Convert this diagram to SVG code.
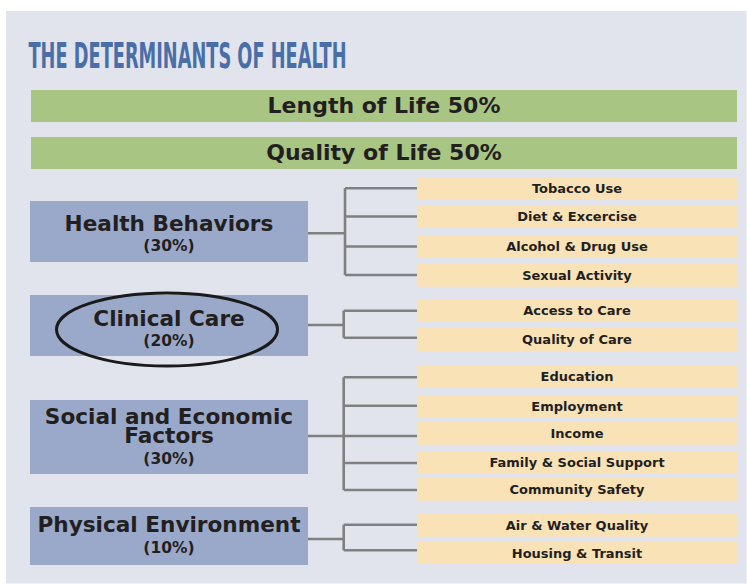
<svg xmlns="http://www.w3.org/2000/svg" width="747" height="584" viewBox="0 0 747 584">
<style>
.bg{fill:#e1e4ec}
.bar{fill:#a8c584}
.cat{fill:#9aa9ca}
.item{fill:#f8e2b6}
.t{font-family:"DejaVu Sans","Liberation Sans",Verdana,sans-serif;font-weight:bold;fill:#231f20;text-anchor:middle}
.big{font-size:22px}
.h{font-size:21.6px}
.p{font-size:15.5px}
.s{font-size:13px}
.conn{fill:none;stroke:#808080;stroke-width:2.6}
.title{font-family:"DejaVu Sans","Liberation Sans",sans-serif;font-stretch:condensed;font-weight:bold;font-size:35px;fill:#4a6ea8}
</style>
<rect x="0" y="0" width="747" height="584" fill="#ffffff"/>
<rect class="bg" x="6" y="11" width="740.5" height="572.5"/>
<text class="title" x="28.5" y="67.7" textLength="318" lengthAdjust="spacingAndGlyphs">THE DETERMINANTS OF HEALTH</text>

<g id="length">
<rect class="bar" x="31" y="90" width="706" height="32"/>
<text class="t big" x="384" y="112.7">Length of Life 50%</text>
</g>
<g id="quality">
<rect class="bar" x="31" y="137" width="706" height="32"/>
<text class="t big" x="384" y="160">Quality of Life 50%</text>
</g>

<g id="connectors">
<path class="conn" d="M308 233.3H345M345 188.3V275M345 188.3H417M345 216.5H417M345 246.5H417M345 275H417"/>
<path class="conn" d="M308 325H343.7M343.7 310.7V337.7M343.7 310.7H417M343.7 337.7H417"/>
<path class="conn" d="M308 436H343.7M343.7 377.3V490M343.7 377.3H417M343.7 405.7H417M343.7 436H417M343.7 463H417M343.7 490H417"/>
<path class="conn" d="M308 539H343.7M343.7 524.7V550.3M343.7 524.7H417M343.7 550.3H417"/>
</g>

<g id="health-behaviors">
<rect class="cat" x="30" y="201" width="278" height="61"/>
<text class="t h" x="169" y="230.7">Health Behaviors</text>
<text class="t p" x="169" y="250.7">(30%)</text>
</g>
<g id="clinical-care">
<rect class="cat" x="30" y="295" width="278" height="61"/>
<text class="t h" x="169" y="325.7">Clinical Care</text>
<text class="t p" x="169" y="345.7">(20%)</text>
<ellipse cx="167" cy="329.5" rx="110.5" ry="36.5" fill="none" stroke="#1a1a1a" stroke-width="3"/>
</g>
<g id="social-economic">
<rect class="cat" x="30" y="400" width="278" height="74"/>
<text class="t h" x="169" y="424.3">Social and Economic</text>
<text class="t h" x="169" y="443.3">Factors</text>
<text class="t p" x="169" y="464.3">(30%)</text>
</g>
<g id="physical-environment">
<rect class="cat" x="30" y="507" width="278" height="58"/>
<text class="t h" x="169" y="531.7">Physical Environment</text>
<text class="t p" x="169" y="553.3">(10%)</text>
</g>

<g id="tobacco"><rect class="item" x="417" y="177.3" width="320" height="22"/><text class="t s" x="577" y="193">Tobacco Use</text></g>
<g id="diet"><rect class="item" x="417" y="205" width="320" height="22.3"/><text class="t s" x="577" y="220.8">Diet &amp; Excercise</text></g>
<g id="alcohol"><rect class="item" x="417" y="235.3" width="320" height="22.4"/><text class="t s" x="577" y="251">Alcohol &amp; Drug Use</text></g>
<g id="sexual"><rect class="item" x="417" y="264" width="320" height="22.7"/><text class="t s" x="577" y="280">Sexual Activity</text></g>
<g id="access"><rect class="item" x="417" y="299.3" width="320" height="22.4"/><text class="t s" x="577" y="315">Access to Care</text></g>
<g id="quality-care"><rect class="item" x="417" y="328" width="320" height="23"/><text class="t s" x="577" y="343.5">Quality of Care</text></g>
<g id="education"><rect class="item" x="417" y="365.3" width="320" height="22.4"/><text class="t s" x="577" y="381">Education</text></g>
<g id="employment"><rect class="item" x="417" y="395" width="320" height="22.3"/><text class="t s" x="577" y="410.7">Employment</text></g>
<g id="income"><rect class="item" x="417" y="422" width="320" height="22.7"/><text class="t s" x="577" y="438">Income</text></g>
<g id="family"><rect class="item" x="417" y="451" width="320" height="22.7"/><text class="t s" x="577" y="467">Family &amp; Social Support</text></g>
<g id="community"><rect class="item" x="417" y="478" width="320" height="22.7"/><text class="t s" x="577" y="494">Community Safety</text></g>
<g id="air"><rect class="item" x="417" y="514" width="320" height="22.7"/><text class="t s" x="577" y="530">Air &amp; Water Quality</text></g>
<g id="housing"><rect class="item" x="417" y="541.7" width="320" height="22"/><text class="t s" x="577" y="557.5">Housing &amp; Transit</text></g>
</svg>
